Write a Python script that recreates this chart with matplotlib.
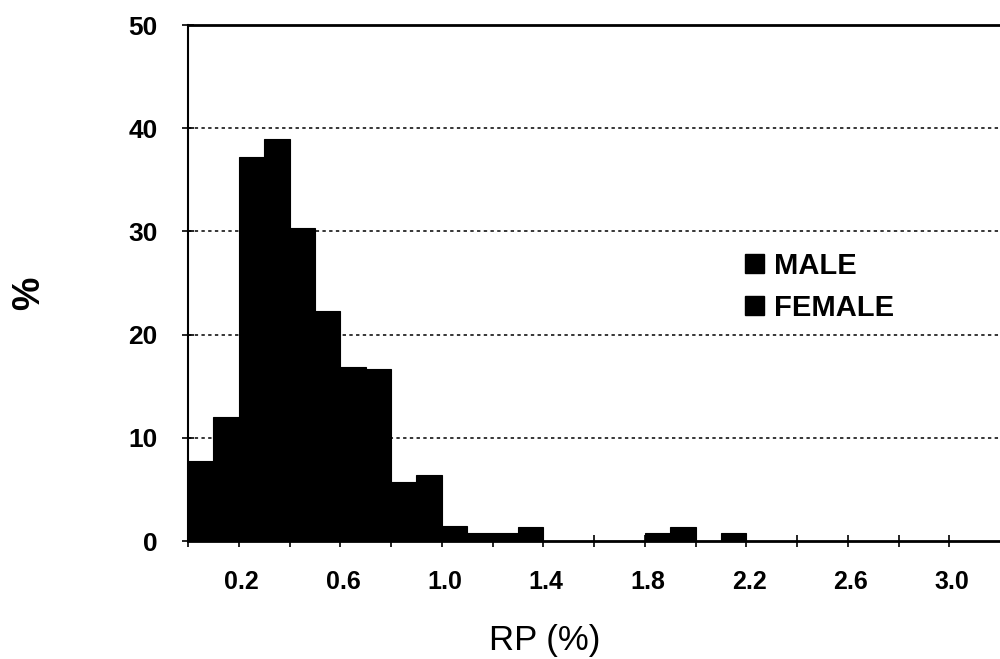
import matplotlib
matplotlib.use('Agg')
import matplotlib.pyplot as plt
import matplotlib.transforms as mtransforms
from matplotlib.patches import Patch

# histogram of RP (%) — bin start and share of subjects per 0.1 bin
bin_start = [0.0, 0.1, 0.2, 0.3, 0.4, 0.5, 0.6, 0.7, 0.8, 0.9, 1.0,
             1.1, 1.2, 1.3, 1.4, 1.5, 1.6, 1.7, 1.8, 1.9, 2.0, 2.1]
pct = [7.8, 12.0, 37.2, 39.0, 30.3, 22.3, 16.9, 16.7, 5.7, 6.4, 1.5,
       0.8, 0.8, 1.4, 0.0, 0.0, 0.0, 0.0, 0.8, 1.4, 0.0, 0.8]
bin_width = 0.1

x_ticks = [0.0, 0.2, 0.4, 0.6, 0.8, 1.0, 1.2, 1.4, 1.6, 1.8, 2.0, 2.2,
           2.4, 2.6, 2.8, 3.0]
x_labels = ['', '0.2', '', '0.6', '', '1.0', '', '1.4', '', '1.8', '',
            '2.2', '', '2.6', '', '3.0']
y_ticks = [0, 10, 20, 30, 40, 50]
legend_labels = ['MALE', 'FEMALE']

plt.rcParams['font.family'] = ['Liberation Sans', 'DejaVu Sans']

fig = plt.figure(figsize=(10, 6.59), dpi=100)
ax = fig.add_axes([0.188, 0.179, 0.812, 0.783])

ax.bar(bin_start, pct, width=bin_width, align='edge',
       color='black', edgecolor='black', linewidth=0.8, zorder=3)

ax.set_xlim(0, 3.2)
ax.set_ylim(0, 50)

# dotted grid at 10..40
for y in y_ticks[1:-1]:
    ax.axhline(y, color='black', linestyle=(0, (2.2, 2.2)), linewidth=1.1, zorder=1)

ax.set_xticks(x_ticks)
ax.set_xticklabels(x_labels, fontweight='bold', fontsize=18)
ax.set_yticks(y_ticks)
ax.set_yticklabels([str(v) for v in y_ticks], fontweight='bold', fontsize=19)
ax.tick_params(axis='x', direction='inout', length=8, width=1.2, pad=17)
ax.tick_params(axis='y', direction='inout', length=8, width=1.2, pad=18)

# x labels sit a little right of their ticks in the original
shift = mtransforms.ScaledTranslation(3 / 100, 0, fig.dpi_scale_trans)
for lbl in ax.get_xticklabels():
    lbl.set_transform(lbl.get_transform() + shift)

for side in ['left', 'bottom', 'top']:
    ax.spines[side].set_linewidth(2)
ax.spines['left'].set_linewidth(1.5)
ax.spines['right'].set_visible(False)

fig.text(0.545, 0.028, 'RP (%)', ha='center', va='center', fontsize=25)
fig.text(0.029, 1 - 293 / 659, '%', ha='center', va='center', rotation=90,
         fontsize=27, fontweight='bold')

handles = [Patch(facecolor='black', edgecolor='black') for _ in legend_labels]
ax.legend(handles, legend_labels, loc='upper left',
          bbox_to_anchor=(0.730, 1 - 237 / 659), bbox_transform=fig.transFigure,
          frameon=False, handlelength=0.65, handleheight=0.6,
          handletextpad=0.35, labelspacing=0.48, borderpad=0,
          prop={'size': 21, 'weight': 'bold'})

plt.savefig('out.png', dpi=100)
